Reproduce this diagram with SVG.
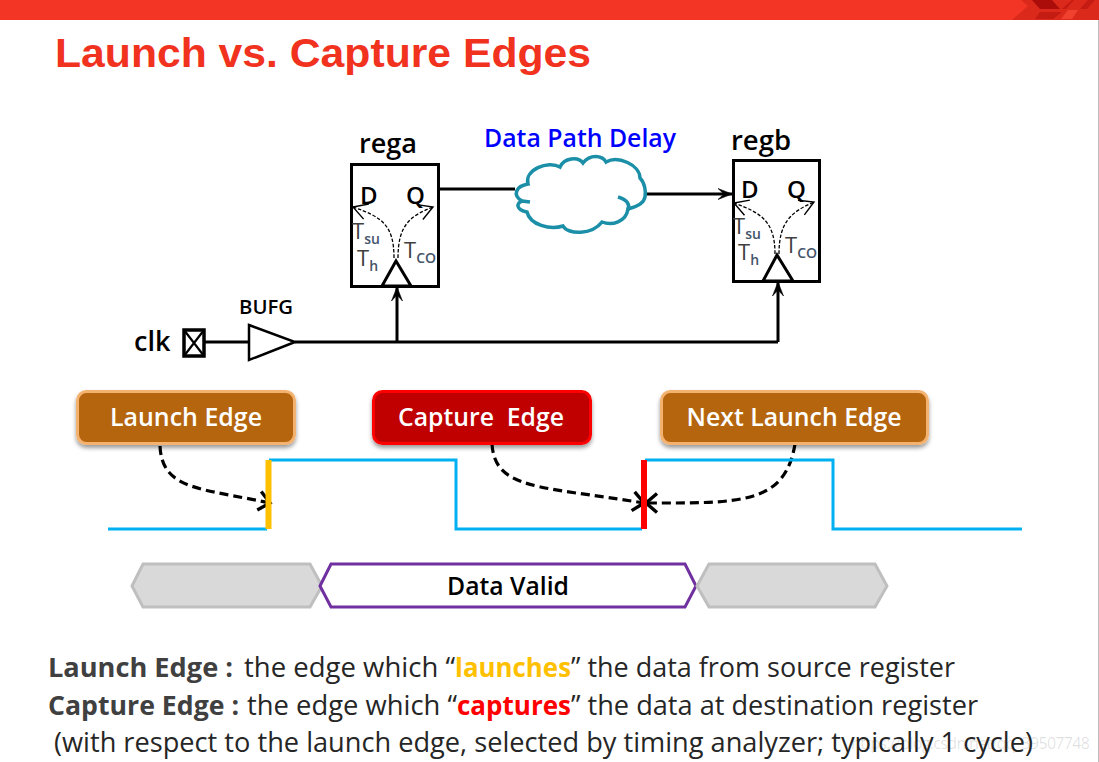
<svg xmlns="http://www.w3.org/2000/svg" width="1099" height="762" viewBox="0 0 1099 762">
<style>
text{font-family:"Open Sans","Noto Sans","Liberation Sans",sans-serif}
.title{font-family:"Liberation Sans",Arial,sans-serif;font-weight:700;font-size:41px;fill:#F0321E}
.lbl{font-weight:600;fill:#000}
.btn{font-weight:600;font-size:26px;fill:#fff;text-anchor:middle}
.t{fill:#404040;font-size:22px}
.s{fill:#44546A;font-size:14px;font-weight:600}
.body{font-size:27px;fill:#262626}
.bb{font-size:27px;font-weight:700;fill:#404040}
.reg{fill:#fff;stroke:#000;stroke-width:3}
.wire{fill:none;stroke:#000;stroke-width:3}
.arrow{marker-end:url(#open)}
.tiny{fill:none;stroke:#000;stroke-width:1.3;stroke-dasharray:3.5 1.8;marker-end:url(#thin)}
.edge{fill:none;stroke:#000;stroke-width:3.2;stroke-dasharray:9 5;marker-end:url(#big)}
.wave{fill:none;stroke:#00B0F0;stroke-width:3}
.grey{fill:#D9D9D9;stroke:#BFBFBF;stroke-width:3}
</style>
<defs>
<marker id="open" markerUnits="userSpaceOnUse" markerWidth="18" markerHeight="16" refX="15" refY="8" orient="auto"><path d="M1,2.500 L15,8 L1,13.500 L7,8 Z" fill="#000" stroke="#000" stroke-width=".6"/></marker>
<marker id="thin" markerUnits="userSpaceOnUse" markerWidth="20" markerHeight="24" refX="16" refY="12" orient="auto"><path d="M2,4 L16,12 L2,20" fill="none" stroke="#000" stroke-width="1.4"/></marker>
<marker id="big" markerUnits="userSpaceOnUse" markerWidth="18" markerHeight="26" refX="13" refY="13" orient="auto"><path d="M2,3.500 L13,13 L2,22.500" fill="none" stroke="#000" stroke-width="3.400"/></marker>
<filter id="sh" x="-10%" y="-20%" width="120%" height="150%"><feDropShadow dx="0" dy="3" stdDeviation="2" flood-color="#000" flood-opacity=".4"/></filter>
</defs>

<g id="header">
<rect x="0" y="0" width="1099" height="20" fill="#F23524"/>
<polygon points="1021,0 1099,0 1099,20 1012,20 1028,6" fill="#DB2A1B"/>
<polygon points="1032,0 1052,0 1060,9 1040,9" fill="#AB0D0B"/>
<polygon points="1062,9 1072,0 1074,0 1066,9" fill="#C41B12"/>
<polygon points="1040,12 1062,12 1053,19 1035,19" fill="#C41B12"/>
<polygon points="1068,10 1078,10 1072,19 1061,19" fill="#F0402E"/>
<polygon points="1088,0 1095,0 1087,9 1080,9" fill="#C41B12"/>
<rect x="1098" y="20" width="1" height="742" fill="#BDBDBD"/>
</g>
<text class="title" x="55" y="67" textLength="536" lengthAdjust="spacingAndGlyphs">Launch vs. Capture Edges</text>

<g id="connectors">
<path class="wire" d="M439,189 H515"/>
<path class="wire arrow" d="M645,194 H732"/>
<path class="wire" d="M205,342 H249"/>
<path class="wire" d="M295,342 H778"/>
<path class="wire arrow" d="M397,342 V287"/>
<path class="wire arrow" d="M778,342 V282"/>
<path class="edge" d="M160,446 C162,490 200,488 270,503"/>
<path class="edge" d="M492,444 C495,490 540,486 644,503"/>
<path class="edge" d="M795,444 C785,505 740,503 646,503"/>
</g>

<g id="rega">
<rect class="reg" x="351.500" y="164.500" width="87" height="122"/>
<polygon points="382,286 396,261 411,286" fill="#fff" stroke="#000" stroke-width="3"/>
<text class="lbl" x="359" y="153" font-size="27" textLength="58" lengthAdjust="spacingAndGlyphs">rega</text>
<text class="lbl" x="360" y="204" font-size="24">D</text>
<text class="lbl" x="406" y="204" font-size="24">Q</text>
<path class="tiny" d="M394,258 C394,225 382,217 353,207"/>
<path class="tiny" d="M398,258 C398,225 410,216 433,207"/>
<text class="t" x="352" y="239">T<tspan class="s" dy="5">su</tspan></text>
<text class="t" x="357" y="266">T<tspan class="s" dy="5">h</tspan></text>
<text class="t" x="404" y="258">T<tspan class="s" dy="5">CO</tspan></text>
</g>

<g id="cloud">
<path d="M528,184 C524,170 548,160 560,167 C564,158 578,156 583,163 C590,154 602,155 606,162 C618,155 640,165 640,178 C645,183 646,192 645,197 C644,203 636,207 628,209 C626,222 612,226 602,222 C592,235 568,235 563,226 C550,230 530,225 527,212 C516,210 516,203 522,201 C512,195 516,186 528,184 Z" fill="#fff" stroke="#1C8FA8" stroke-width="3.500"/>
<path d="M618,197 C628,200 630,205 628,210 M530,202 L522,201" fill="none" stroke="#1C8FA8" stroke-width="3.500"/>
<text x="484" y="147" font-size="25" font-weight="600" fill="#0000FF" textLength="192" lengthAdjust="spacingAndGlyphs">Data Path Delay</text>
</g>

<g id="regb">
<rect class="reg" x="733.500" y="160.500" width="86" height="121"/>
<polygon points="763,281 777,255 793,281" fill="#fff" stroke="#000" stroke-width="3"/>
<text class="lbl" x="731" y="150" font-size="27" textLength="60" lengthAdjust="spacingAndGlyphs">regb</text>
<text class="lbl" x="741" y="198" font-size="24">D</text>
<text class="lbl" x="787" y="198" font-size="24">Q</text>
<path class="tiny" d="M775,254 C775,222 762,213 734,203"/>
<path class="tiny" d="M779,254 C779,222 791,212 814,202"/>
<text class="t" x="733" y="234">T<tspan class="s" dy="5">su</tspan></text>
<text class="t" x="738" y="260">T<tspan class="s" dy="5">h</tspan></text>
<text class="t" x="785" y="253">T<tspan class="s" dy="5">CO</tspan></text>
</g>

<g id="clk">
<text class="lbl" x="134" y="351" font-size="27">clk</text>
<rect x="184" y="330" width="20" height="26" fill="#fff" stroke="#000" stroke-width="3.500"/>
<path d="M184,330 L204,356 M204,330 L184,356" stroke="#000" stroke-width="2.200" fill="none"/>
</g>
<g id="bufg">
<polygon points="249,325 295,342 249,360" fill="#fff" stroke="#000" stroke-width="2.500"/>
<text x="239" y="314" font-size="19" font-weight="600" fill="#000" textLength="54" lengthAdjust="spacingAndGlyphs">BUFG</text>
</g>

<g id="launch-edge">
<rect x="77.500" y="391.500" width="217" height="52" rx="9" fill="#B56510" stroke="#F4B26F" stroke-width="3" filter="url(#sh)"/>
<text class="btn" x="186" y="426" textLength="152" lengthAdjust="spacingAndGlyphs">Launch Edge</text>
</g>
<g id="capture-edge">
<rect x="373.500" y="391.500" width="217" height="52" rx="9" fill="#C00000" stroke="#FF0000" stroke-width="3" filter="url(#sh)"/>
<text class="btn" x="481" y="426" textLength="166" lengthAdjust="spacingAndGlyphs" xml:space="preserve">Capture  Edge</text>
</g>
<g id="next-launch-edge">
<rect x="661.500" y="391.500" width="266" height="52" rx="9" fill="#B56510" stroke="#F4B26F" stroke-width="3" filter="url(#sh)"/>
<text class="btn" x="794" y="426" textLength="215" lengthAdjust="spacingAndGlyphs">Next Launch Edge</text>
</g>

<g id="waveform">
<path class="wave" d="M108,529 H267 M269,460 H456 V529 H642 M645,460 H833 V529 H1022"/>
<rect x="265.500" y="460" width="6" height="69" fill="#FFC000"/>
<rect x="641" y="460" width="6" height="69" fill="#FF0000"/>
</g>

<g id="data-bus">
<polygon class="grey" points="132,586 143,564 310,564 322,586 310,607 143,607"/>
<polygon points="320,586 331,564 685,564 696,586 685,607 331,607" fill="#fff" stroke="#7030A0" stroke-width="3"/>
<polygon class="grey" points="697,586 709,564 875,564 887,586 875,607 709,607"/>
<text x="508" y="595" font-size="25" font-weight="600" fill="#000" text-anchor="middle" textLength="122" lengthAdjust="spacingAndGlyphs">Data Valid</text>
</g>

<g id="notes">
<text class="bb" x="48" y="677" textLength="185" lengthAdjust="spacingAndGlyphs">Launch Edge :</text>
<text class="body" x="244" y="677" textLength="211" lengthAdjust="spacingAndGlyphs">the edge which “</text>
<text class="bb" x="455" y="677" textLength="116" lengthAdjust="spacingAndGlyphs" style="fill:#FFC000">launches</text>
<text class="body" x="571" y="677" textLength="384" lengthAdjust="spacingAndGlyphs">” the data from source register</text>
<text class="bb" x="48" y="715" textLength="191" lengthAdjust="spacingAndGlyphs">Capture Edge :</text>
<text class="body" x="247" y="715" textLength="210" lengthAdjust="spacingAndGlyphs">the edge which “</text>
<text class="bb" x="457" y="715" textLength="114" lengthAdjust="spacingAndGlyphs" style="fill:#FF0000">captures</text>
<text class="body" x="571" y="715" textLength="407" lengthAdjust="spacingAndGlyphs">” the data at destination register</text>
<text class="body" x="54" y="752" textLength="979" lengthAdjust="spacingAndGlyphs">(with respect to the launch edge, selected by timing analyzer; typically 1 cycle)</text>
<text x="851" y="749" font-size="16" fill="#000" fill-opacity=".13" textLength="239">https://blog.csdn.net/qq_39507748</text>
</g>
</svg>
